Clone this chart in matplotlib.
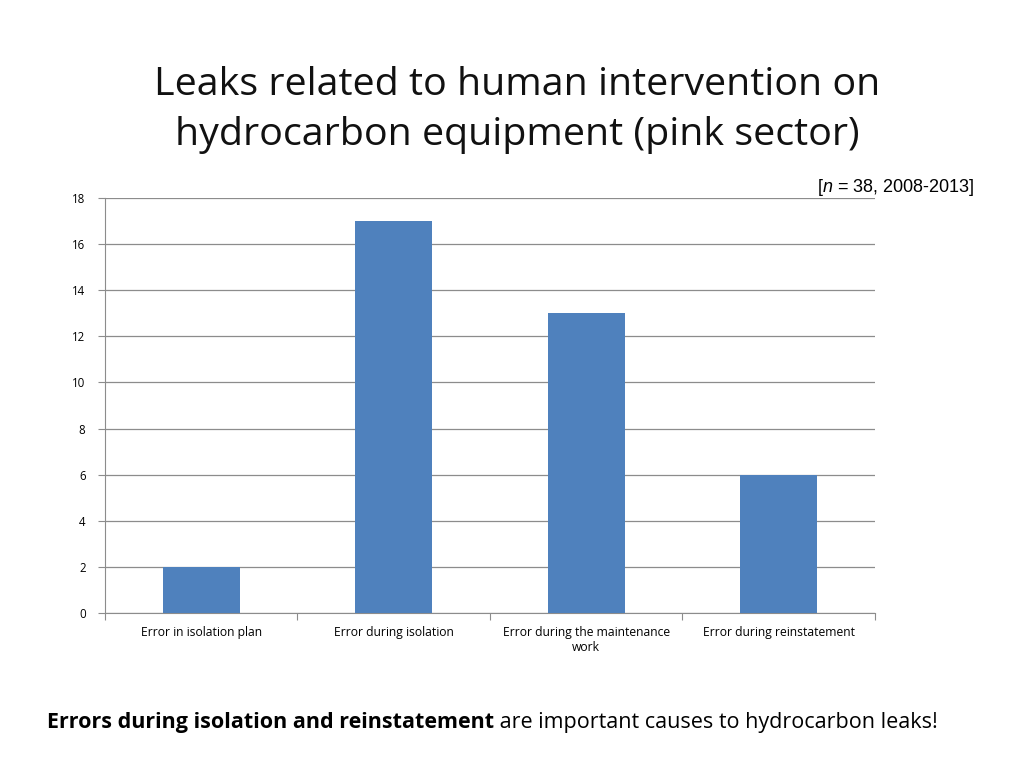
import matplotlib
matplotlib.use("Agg")
import matplotlib.pyplot as plt
import numpy as np

categories = ["Error in isolation plan", "Error during isolation",
              "Error during the maintenance\nwork", "Error during reinstatement"]
counts = [2, 17, 13, 6]
yticks = [0, 2, 4, 6, 8, 10, 12, 14, 16, 18]

plt.rcParams["font.family"] = ["Open Sans", "DejaVu Sans"]
plt.rcParams["mathtext.fontset"] = "custom"
plt.rcParams["mathtext.rm"] = "Liberation Sans"
plt.rcParams["mathtext.it"] = "Liberation Sans:italic"

fig = plt.figure(figsize=(10.24, 7.68), dpi=100)
ax = fig.add_axes([0.1025, 0.2018, 0.752, 0.5404])

x = np.arange(len(categories))
ax.bar(x, counts, width=0.4, color="#4F81BD", zorder=3)
ax.set_xlim(-0.5, len(categories) - 0.5)
ax.set_ylim(0, 18)
ax.set_yticks(yticks)
ax.set_yticklabels([str(v) for v in yticks], fontsize=8.3)
ax.yaxis.grid(True, color="#8c8c8c", lw=0.9, zorder=0)

# category labels sit between the boundary ticks
ax.set_xticks(np.arange(len(categories) + 1) - 0.5)
ax.set_xticklabels([])
ax.set_xticks(x, minor=True)
ax.set_xticklabels(categories, minor=True, fontsize=8.7)
ax.tick_params(axis="x", which="minor", length=0, pad=9)
ax.tick_params(axis="x", which="major", length=5, color="#8c8c8c", direction="out")
ax.tick_params(axis="y", length=5, color="#8c8c8c", pad=9)

for s in ["top", "right"]:
    ax.spines[s].set_visible(False)
for s in ["left", "bottom"]:
    ax.spines[s].set_color("#8c8c8c")

fig.text(0.505, 0.857, "Leaks related to human intervention on\nhydrocarbon equipment (pink sector)",
         ha="center", va="center", fontsize=28.4, linespacing=1.42, color="#111111")
fig.text(0.952, 0.756, r"[$\mathit{n}$ = 38, 2008-2013]", ha="right", va="center",
         fontsize=13, family="Liberation Sans")

t1 = fig.text(0.046, 0.052, "Errors during isolation and reinstatement", ha="left",
              va="baseline", fontsize=15.5, fontweight="bold")
ax.annotate(" are important causes to hydrocarbon leaks!", xy=(1, 0), xycoords=t1,
            ha="left", va="bottom", fontsize=15.5, annotation_clip=False)

fig.savefig("out.png", dpi=100)
